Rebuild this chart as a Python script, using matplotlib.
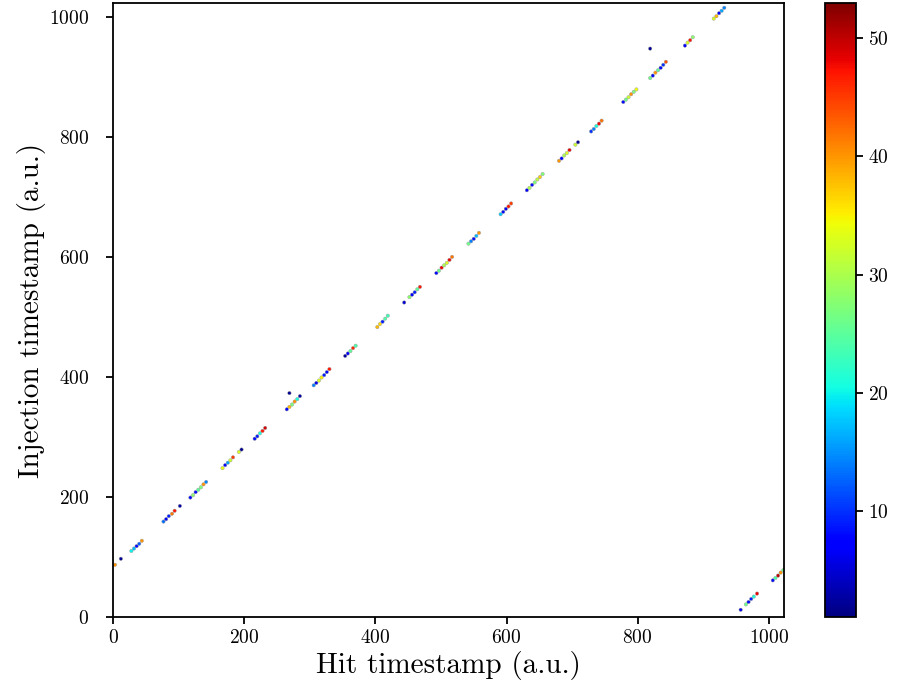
import matplotlib
matplotlib.use('Agg')
import matplotlib.pyplot as plt

plt.rcParams['font.family'] = 'serif'
plt.rcParams['font.serif'] = ['cmr10', 'DejaVu Serif']
plt.rcParams['mathtext.fontset'] = 'cm'
plt.rcParams['axes.formatter.use_mathtext'] = True

# --- hits: timestamp of hit, timestamp of injection, amplitude ---
hit_ts = [
    3, 12,
    28, 32, 36, 40, 44,
    77, 81, 85, 90, 94,
    102,
    118, 122, 126, 130, 134, 138, 142,
    167, 171, 175, 179, 183, 192, 196,
    216, 220, 224, 228, 232,
    269,
    265, 269, 273, 277, 281, 285,
    306, 310, 314, 318, 322, 326, 330,
    354, 358, 362, 366, 370,
    403, 407, 411, 415, 419,
    444,
    452, 456, 460, 464, 468,
    493, 497, 501, 505, 509, 513, 517,
    542, 546, 550, 554, 558,
    591, 595, 599, 603, 607,
    631, 635, 639, 643, 647, 651, 655,
    680, 684, 688, 692, 696, 705, 709,
    729, 733, 737, 741, 745,
    778, 782, 786, 790, 794, 798,
    819,
    819, 823, 827, 831, 835, 839, 843,
    872, 876, 880, 884,
    916, 920, 924, 928, 932,
    957, 965, 969, 973, 977, 982,
    1006, 1010, 1014, 1018, 1022,
]
inj_ts = [
    87, 97,
    110, 114, 118, 122, 127,
    159, 163, 168, 172, 177,
    185,
    199, 203, 208, 212, 216, 221, 225,
    248, 253, 257, 261, 266, 275, 279,
    297, 301, 306, 310, 315,
    373,
    346, 350, 354, 359, 363, 368,
    386, 390, 394, 399, 403, 408, 413,
    435, 439, 443, 448, 452,
    483, 488, 492, 497, 502,
    524,
    533, 537, 541, 546, 550,
    573, 577, 582, 586, 590, 595, 600,
    622, 626, 630, 635, 640,
    671, 675, 680, 684, 689,
    711, 715, 720, 724, 729, 733, 738,
    760, 764, 769, 773, 778, 787, 791,
    809, 813, 818, 822, 827,
    858, 862, 866, 871, 875, 879,
    947,
    898, 902, 907, 911, 915, 920, 925,
    952, 957, 961, 966,
    997, 1001, 1006, 1010, 1015,
    12, 21, 25, 30, 34, 39,
    61, 65, 69, 74, 78,
]
amplitude = [
    40, 2,
    20, 17, 8, 12, 40,
    13, 7, 9, 42, 47,
    3,
    8, 28, 8, 25, 27, 40, 14,
    34, 8, 16, 32, 45, 33, 2,
    8, 9, 21, 47, 49,
    2,
    7, 38, 27, 40, 21, 3,
    14, 6, 33, 35, 9, 7, 47,
    3, 7, 25, 46, 24,
    38, 36, 9, 24, 23,
    5,
    28, 7, 9, 25, 47,
    8, 26, 48, 30, 33, 48, 42,
    26, 14, 8, 17, 40,
    18, 8, 6, 47, 45,
    7, 30, 8, 27, 31, 37, 27,
    40, 7, 30, 33, 48, 32, 2,
    10, 14, 21, 48, 42,
    8, 26, 32, 40, 27, 34,
    2,
    26, 8, 40, 25, 8, 10, 44,
    7, 33, 47, 28,
    33, 38, 7, 16, 14,
    6, 26, 8, 9, 21, 48,
    8, 24, 50, 40, 26,
]

fig = plt.figure(figsize=(9.01, 6.97), dpi=100)
ax = fig.add_axes([0.1254, 0.1148, 0.7447, 0.8809])
cax = fig.add_axes([0.9156, 0.1148, 0.0344, 0.8809])

sc = ax.scatter(hit_ts, inj_ts, c=amplitude, cmap='jet', vmin=1, vmax=53,
                s=6, edgecolors='0.6', linewidths=0.3)
ax.set_xlim(0, 1023)
ax.set_ylim(0, 1023)
ax.set_xticks([0, 200, 400, 600, 800, 1000])
ax.set_yticks([0, 200, 400, 600, 800, 1000])
ax.set_xlabel('Hit timestamp (a.u.)', fontsize=21, labelpad=3)
ax.set_ylabel('Injection timestamp (a.u.)', fontsize=21, labelpad=2)
ax.tick_params(labelsize=14, width=1.3, length=5)
ax.tick_params(axis='y', pad=12)
for s in ax.spines.values():
    s.set_linewidth(1.3)

cb = fig.colorbar(sc, cax=cax)
cb.set_ticks([10, 20, 30, 40, 50])
cb.ax.tick_params(labelsize=14, width=1.3, length=5)
cb.outline.set_linewidth(1.3)

fig.savefig('out.png', dpi=100)
